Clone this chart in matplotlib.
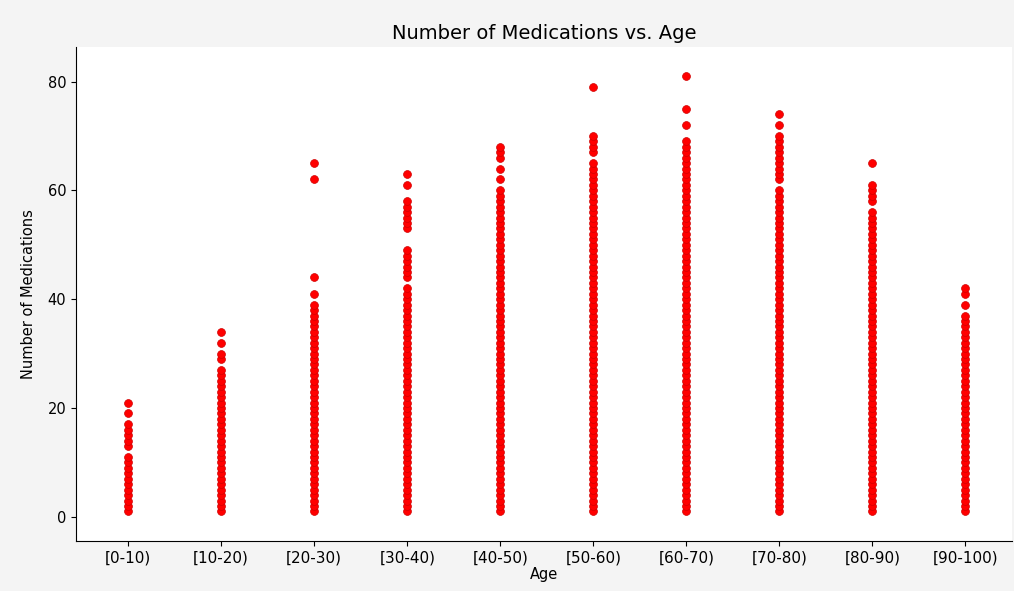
import numpy as np
from matplotlib import pyplot as plt

# age groups and the medication counts seen in each group
ages = ['[0-10)', '[10-20)', '[20-30)', '[30-40)', '[40-50)',
        '[50-60)', '[60-70)', '[70-80)', '[80-90)', '[90-100)']
# every integer from 1 up to this value appears in the group
run_top = [11, 27, 39, 42, 60, 65, 69, 60, 56, 37]
# values above the solid run
extra = [
    [13, 14, 15, 16, 17, 19, 21],
    [29, 30, 32, 34],
    [41, 44, 62, 65],
    [44, 45, 46, 47, 48, 49, 53, 54, 55, 56, 57, 58, 61, 63],
    [62, 64, 66, 67, 68],
    [67, 68, 69, 70, 79],
    [72, 75, 81],
    [62, 63, 64, 65, 66, 67, 68, 69, 70, 72, 74],
    [58, 59, 60, 61, 65],
    [39, 41, 42],
]

xs = []
ys = []
for i, age in enumerate(ages):
    vals = list(range(1, run_top[i] + 1)) + extra[i]
    xs += [age] * len(vals)
    ys += vals

fig = plt.figure(figsize=(10.14, 5.91), dpi=100, facecolor='#f4f4f4')
ax = fig.add_axes([0.075, 0.085, 0.923, 0.835])
ax.scatter(xs, ys, color='red', s=32, edgecolors='#d00000', linewidths=0.5)
ax.set_title('Number of Medications vs. Age', fontsize=14)
ax.set_xlabel('Age', fontsize=10.5, labelpad=1)
ax.set_ylabel('Number of Medications', fontsize=10.5, labelpad=8)
ax.set_xlim(-0.56, 9.5)
ax.set_ylim(-4.4, 86.3)
ax.set_yticks([0, 20, 40, 60, 80])
ax.tick_params(axis='x', labelsize=11)
ax.tick_params(axis='y', labelsize=10.5)
ax.spines['top'].set_visible(False)
ax.spines['right'].set_visible(False)

plt.savefig('out.png', facecolor=fig.get_facecolor())
